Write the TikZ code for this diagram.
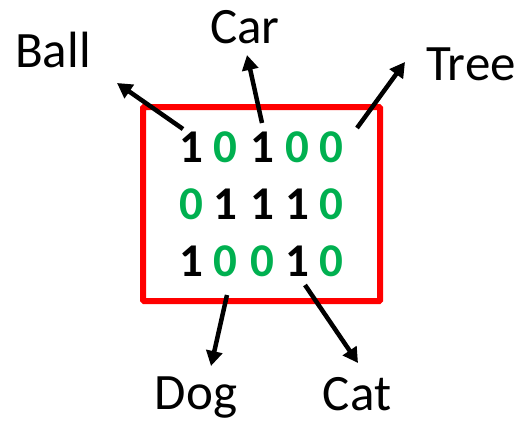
\documentclass[tikz,border=0pt]{standalone}
\usepackage{fontspec}
\setmainfont{Carlito}
\usetikzlibrary{arrows.meta}
\definecolor{dgreen}{HTML}{00B050}
\definecolor{boxred}{HTML}{FF0000}
\tikzset{
  one/.style={font=\fontsize{47}{47}\selectfont\bfseries, text=black, inner sep=0pt, anchor=base},
  zero/.style={font=\fontsize{47}{47}\selectfont\bfseries, text=dgreen, inner sep=0pt, anchor=base},
  lbl/.style={font=\fontsize{51}{51}\selectfont, inner sep=0pt, anchor=base},
  arr/.style={line width=4.5pt, -{Triangle[length=15pt,width=16pt]}},
}
\begin{document}
\begin{tikzpicture}[x=1pt,y=-1pt]
\useasboundingbox (0,0) rectangle (518,423);
\draw[boxred, line width=6pt, rounded corners=1pt] (143,107) rectangle (380,301);
% digits
\node[one]  (d11) at (191,162) {1};
\node[zero] (d12) at (225,162) {0};
\node[one]  (d13) at (262,162) {1};
\node[zero] (d14) at (297,162) {0};
\node[zero] (d15) at (331,162) {0};
\node[zero] (d21) at (191,219) {0};
\node[one]  (d22) at (225,219) {1};
\node[one]  (d23) at (262,219) {1};
\node[one]  (d24) at (297,219) {1};
\node[zero] (d25) at (331,219) {0};
\node[one]  (d31) at (191,276) {1};
\node[zero] (d32) at (225,276) {0};
\node[zero] (d33) at (262,276) {0};
\node[one]  (d34) at (297,276) {1};
\node[zero] (d35) at (331,276) {0};
% labels
\node[lbl] (ball) at (53,67) {Ball};
\node[lbl] (car) at (245,43) {Car};
\node[lbl] (tree) at (471,80) {Tree};
\node[lbl] (dog) at (196,409) {Dog};
\node[lbl] (cat) at (357,410) {Cat};
% arrow ends
\coordinate (ballS) at (183,129); \coordinate (ballE) at (117,83);
\coordinate (carS) at (262,123);  \coordinate (carE) at (247,55);
\coordinate (treeS) at (357,128); \coordinate (treeE) at (405,62);
\coordinate (dogS) at (227,295);  \coordinate (dogE) at (211,366);
\coordinate (catS) at (305,285);  \coordinate (catE) at (358,363);
\draw[arr] (ballS) -- (ballE);
\draw[arr] (carS) -- (carE);
\draw[arr] (treeS) -- (treeE);
\draw[arr] (dogS) -- (dogE);
\draw[arr] (catS) -- (catE);
\end{tikzpicture}
\end{document}
